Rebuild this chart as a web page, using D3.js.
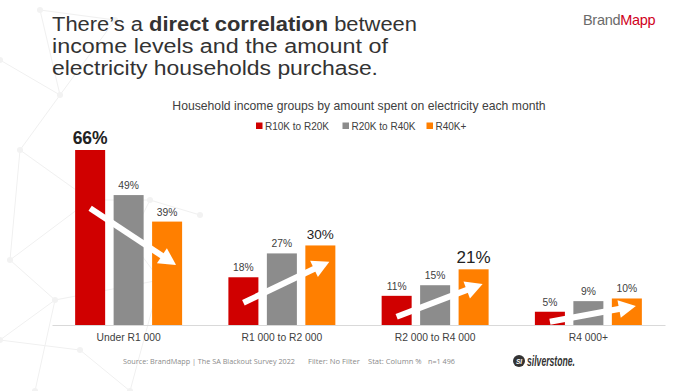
<!DOCTYPE html>
<html><head><meta charset="utf-8">
<script src="https://cdn.jsdelivr.net/npm/d3@7"></script>
<style>html,body{margin:0;padding:0;background:#fff;}svg{display:block;}</style>
</head><body>
<svg id="c" width="700" height="391"></svg>
<script>
const categories = ["Under R1 000", "R1 000 to R2 000", "R2 000 to R4 000", "R4 000+"];
const seriesNames = ["R10K to R20K", "R20K to R40K", "R40K+"];
const seriesColors = ["#d00000", "#8c8c8c", "#ff7f00"];
const r10to20 = [66, 18, 11, 5];
const r20to40 = [49, 27, 15, 9];
const r40plus = [39, 30, 21, 10];
// highlighted labels: [series index, category index, style]
const highlights = [[0, 0, "bold"], [2, 1, "big"], [2, 2, "large"]];
// trend arrows in value units: start (at first bar) and end (at last bar)
const arrowFrom = [44, 8.4, 3.1, 1.2];
const arrowTo = [22.6, 23.9, 15.5, 7.2];

const seriesValues = [r10to20, r20to40, r40plus];
const svg = d3.select("#c");
const baseY = 325, topY = 150;

// faint background network decoration
const deco = svg.append("g").attr("stroke", "#f0f0f0").attr("fill", "#f2f2f2").attr("stroke-width", 1);
const nodes = [[40,10],[115,20],[0,60],[60,95],[20,150],[90,200],[10,260],[55,300],[0,340],[35,391],[150,200],[130,240],[200,215],[160,280],[80,350],[130,391]];
const links = [[0,1],[0,3],[1,3],[2,3],[3,4],[4,5],[5,6],[6,7],[7,8],[7,9],[5,10],[10,11],[10,12],[11,13],[7,13],[8,14],[14,15],[13,15],[4,6],[5,11]];
links.forEach(([a,b]) => deco.append("line").attr("x1", nodes[a][0]).attr("y1", nodes[a][1]).attr("x2", nodes[b][0]).attr("y2", nodes[b][1]));
nodes.forEach(n => deco.append("circle").attr("cx", n[0]).attr("cy", n[1]).attr("r", 3).attr("stroke", "none"));

// title
const tf = "'Liberation Sans', Arial, sans-serif";
const ts = 19.4;
const t1 = svg.append("text").attr("x", 52).attr("y", 31).attr("font-family", tf).attr("font-size", ts).attr("fill", "#333")
  .attr("textLength", 365).attr("lengthAdjust", "spacingAndGlyphs");
t1.append("tspan").text("There\u2019s a ");
t1.append("tspan").attr("font-weight", "bold").text("direct correlation");
t1.append("tspan").text(" between");
svg.append("text").attr("x", 52).attr("y", 53).attr("font-family", tf).attr("font-size", ts).attr("fill", "#333")
  .attr("textLength", 336).attr("lengthAdjust", "spacingAndGlyphs").text("income levels and the amount of");
svg.append("text").attr("x", 52).attr("y", 75).attr("font-family", tf).attr("font-size", ts).attr("fill", "#333")
  .attr("textLength", 326).attr("lengthAdjust", "spacingAndGlyphs").text("electricity households purchase.");

// BrandMapp logo
const logo = svg.append("text").attr("x", 583).attr("y", 25).attr("font-family", "'Liberation Sans', Arial, sans-serif").attr("font-size", 14.5).attr("letter-spacing", -0.3);
logo.append("tspan").attr("fill", "#6b6b6b").text("Brand");
logo.append("tspan").attr("fill", "#d0021b").text("Mapp");

// subtitle
svg.append("text").attr("x", 359).attr("y", 110).attr("text-anchor", "middle")
  .attr("font-family", "'Liberation Sans', Arial, sans-serif").attr("font-size", 12.2).attr("fill", "#404040")
  .text("Household income groups by amount spent on electricity each month");

// legend
const legendX = [256, 342.5, 426.5];
const lg = svg.append("g").attr("font-family", "'Liberation Sans', Arial, sans-serif").attr("font-size", 10).attr("fill", "#404040");
seriesNames.forEach((s, i) => {
  lg.append("rect").attr("x", legendX[i]).attr("y", 122.5).attr("width", 6.5).attr("height", 6.5).attr("fill", seriesColors[i]);
  lg.append("text").attr("x", legendX[i] + 9).attr("y", 129.5).text(s);
});

// scales
const x0 = d3.scaleBand().domain(categories).range([52, 665]).paddingInner(0.302).paddingOuter(0.151);
const x1 = d3.scaleBand().domain(d3.range(seriesNames.length)).range([0, x0.bandwidth()]).paddingInner(0.22).paddingOuter(0);
const y = d3.scaleLinear().domain([0, 66]).range([baseY, topY]);

// axis
const xAxis = svg.append("g").attr("transform", `translate(0,${baseY})`)
  .call(d3.axisBottom(x0).tickSize(0).tickPadding(10).tickSizeOuter(0));
xAxis.select(".domain").attr("stroke", "#d9d9d9").attr("stroke-width", 1);
xAxis.selectAll("text").attr("font-family", "'Liberation Sans', Arial, sans-serif").attr("font-size", 10.3).attr("fill", "#404040").attr("dy", "0.55em");

// bars
const groups = svg.append("g").selectAll("g").data(categories).join("g")
  .attr("transform", d => `translate(${x0(d)},0)`);
seriesValues.forEach((vals, si) => {
  groups.append("rect")
    .attr("x", x1(si)).attr("width", x1.bandwidth())
    .attr("y", (d, ci) => y(vals[ci])).attr("height", (d, ci) => baseY - y(vals[ci]))
    .attr("fill", seriesColors[si]);
});

// labels
seriesValues.forEach((vals, si) => {
  groups.append("text")
    .attr("x", x1(si) + x1.bandwidth() / 2)
    .attr("y", (d, ci) => y(vals[ci]) - 6)
    .attr("text-anchor", "middle")
    .attr("font-family", "'Liberation Sans', Arial, sans-serif")
    .each(function(d, ci) {
      const h = highlights.find(hh => hh[0] === si && hh[1] === ci);
      const sel = d3.select(this);
      if (!h) sel.attr("font-size", 10.3).attr("fill", "#404040");
      else if (h[2] === "bold") sel.attr("font-size", 17.5).attr("font-weight", "bold").attr("fill", "#222");
      else if (h[2] === "big") sel.attr("font-size", 13.5).attr("fill", "#222");
      else sel.attr("font-size", 17).attr("fill", "#222");
    })
    .text((d, ci) => vals[ci] + "%");
});

// trend arrows
const arrows = svg.append("g");
categories.forEach((c, ci) => {
  const xs = x0(c) + x1(0) + x1.bandwidth() / 2;
  const xe = x0(c) + x1(2) + x1.bandwidth() * 0.8;
  const ys = y(arrowFrom[ci]), ye = y(arrowTo[ci]);
  const ang = Math.atan2(ye - ys, xe - xs);
  const headLen = 17, headHalf = 9;
  const bx = xe - headLen * Math.cos(ang), by = ye - headLen * Math.sin(ang);
  arrows.append("line").attr("x1", xs).attr("y1", ys).attr("x2", bx + Math.cos(ang)).attr("y2", by + Math.sin(ang))
    .attr("stroke", "#fff").attr("stroke-width", 6);
  const px = -Math.sin(ang), py = Math.cos(ang);
  arrows.append("polygon")
    .attr("points", [[xe, ye], [bx + px * headHalf, by + py * headHalf], [bx - px * headHalf, by - py * headHalf]].map(p => p.join(",")).join(" "))
    .attr("fill", "#fff");
});

// footer
const ft = svg.append("g").attr("font-family", "'Open Sans', sans-serif").attr("font-size", 7.6).attr("fill", "#8a8a8a");
ft.append("text").attr("x", 123).attr("y", 364).attr("textLength", 172).attr("lengthAdjust", "spacingAndGlyphs").text("Source: BrandMapp | The SA Blackout Survey 2022");
ft.append("text").attr("x", 308).attr("y", 364).text("Filter: No Filter");
ft.append("text").attr("x", 368).attr("y", 364).text("Stat: Column %");
ft.append("text").attr("x", 428).attr("y", 364).attr("textLength", 27).attr("lengthAdjust", "spacingAndGlyphs").text("n=1 496");

// silverstone logo
const sl = svg.append("g");
sl.append("circle").attr("cx", 519).attr("cy", 361).attr("r", 6).attr("fill", "#333");
sl.append("text").attr("x", 519).attr("y", 363.5).attr("text-anchor", "middle").attr("font-family", "'Liberation Sans', Arial, sans-serif")
  .attr("font-size", 6.5).attr("font-weight", "bold").attr("font-style", "italic").attr("fill", "#fff").text("SI");
sl.append("text").attr("x", 527).attr("y", 366).attr("font-family", "'Liberation Sans', Arial, sans-serif")
  .attr("font-size", 14).attr("font-weight", "bold").attr("font-style", "italic").attr("fill", "#333")
  .attr("textLength", 48).attr("lengthAdjust", "spacingAndGlyphs").text("silverstone.");
</script>
</body></html>
